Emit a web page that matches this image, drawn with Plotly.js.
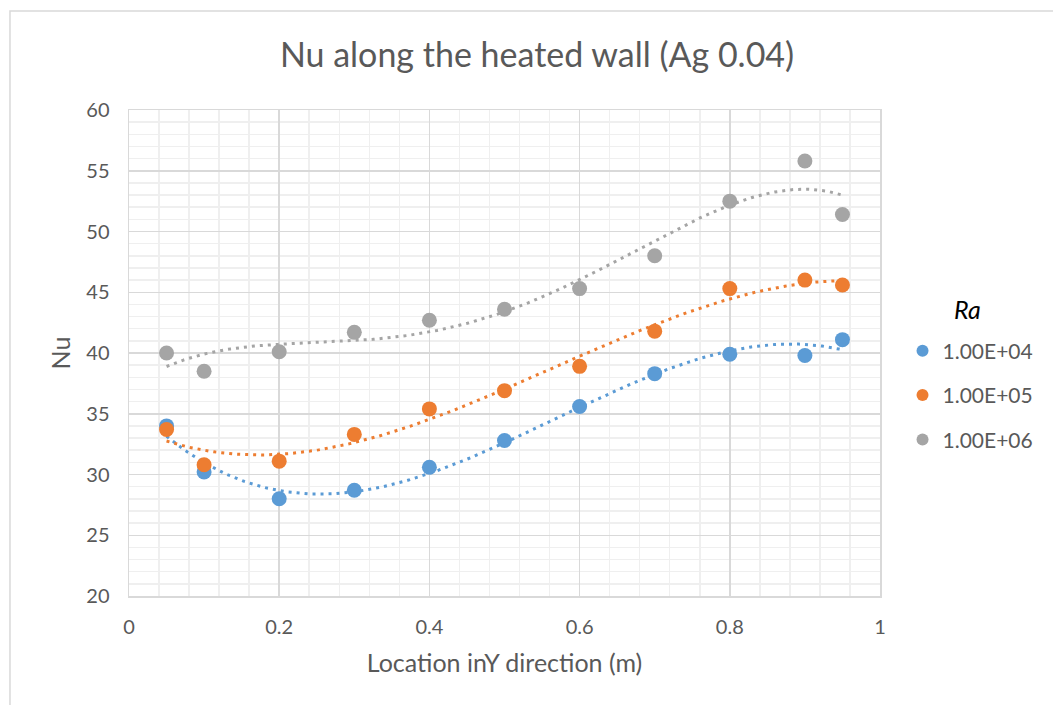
<!DOCTYPE html>
<html>
<head>
<meta charset="utf-8">
<script src="https://cdn.plot.ly/plotly-3.0.1.min.js"></script>
<style>html,body{margin:0;padding:0;background:#fff;}#chart{width:1053px;height:705px;}</style>
</head>
<body>
<div id="chart"></div>
<script>
var locationY = [0.05, 0.1, 0.2, 0.3, 0.4, 0.5, 0.6, 0.7, 0.8, 0.9, 0.95];
var nuRa1e4 = [34.0, 30.2, 28.0, 28.7, 30.6, 32.8, 35.6, 38.3, 39.9, 39.8, 41.1];
var nuRa1e5 = [33.7, 30.8, 31.1, 33.3, 35.4, 36.9, 38.9, 41.8, 45.3, 46.0, 45.6];
var nuRa1e6 = [40.0, 38.5, 40.1, 41.7, 42.7, 43.6, 45.3, 48.0, 52.5, 55.8, 51.4];
var seriesNames = ['1.00E+04', '1.00E+05', '1.00E+06'];
var seriesColors = ['#5B9BD5', '#ED7D31', '#A5A5A5'];
var polyOrders = [3, 3, 4];

function polyFit(xs, ys, order) {
  var n = order + 1, A = [], b = [];
  for (var i = 0; i < n; i++) { A.push(new Array(n).fill(0)); b.push(0); }
  for (var k = 0; k < xs.length; k++) {
    for (var i = 0; i < n; i++) {
      b[i] += ys[k] * Math.pow(xs[k], i);
      for (var j = 0; j < n; j++) A[i][j] += Math.pow(xs[k], i + j);
    }
  }
  for (var c = 0; c < n; c++) {
    var p = c;
    for (var r = c + 1; r < n; r++) if (Math.abs(A[r][c]) > Math.abs(A[p][c])) p = r;
    var t = A[c]; A[c] = A[p]; A[p] = t; var tb = b[c]; b[c] = b[p]; b[p] = tb;
    for (var r = c + 1; r < n; r++) {
      var f = A[r][c] / A[c][c];
      for (var j = c; j < n; j++) A[r][j] -= f * A[c][j];
      b[r] -= f * b[c];
    }
  }
  var coef = new Array(n).fill(0);
  for (var i = n - 1; i >= 0; i--) {
    var s = b[i];
    for (var j = i + 1; j < n; j++) s -= A[i][j] * coef[j];
    coef[i] = s / A[i][i];
  }
  return coef;
}

var allSeries = [nuRa1e4, nuRa1e5, nuRa1e6];
var traces = [];
var xmin = Math.min.apply(null, locationY), xmax = Math.max.apply(null, locationY);
allSeries.forEach(function (ys, idx) {
  var coef = polyFit(locationY, ys, polyOrders[idx]);
  var tx = [], ty = [];
  for (var i = 0; i <= 200; i++) {
    var x = xmin + (xmax - xmin) * i / 200;
    var y = 0;
    for (var j = 0; j < coef.length; j++) y += coef[j] * Math.pow(x, j);
    tx.push(x); ty.push(y);
  }
  traces.push({
    x: tx, y: ty, mode: 'lines', showlegend: false, hoverinfo: 'skip',
    line: {color: seriesColors[idx], width: 3, dash: '3px,5px'}
  });
});
allSeries.forEach(function (ys, idx) {
  traces.push({
    x: locationY, y: ys, mode: 'markers', name: seriesNames[idx],
    legendgroup: 'g' + idx,
    marker: {color: seriesColors[idx], size: 15}
  });
});

var FONT = 'Lato, "Open Sans", sans-serif';
var layout = {
  width: 1053, height: 705,
  paper_bgcolor: '#ffffff', plot_bgcolor: '#ffffff',
  margin: {l: 129, r: 173, t: 110, b: 109},
  font: {family: FONT, color: '#595959', size: 20},
  title: {text: 'Nu along the heated wall (Ag 0.04)', font: {family: FONT, size: 34, color: '#595959'},
          x: 0.51, xref: 'container', xanchor: 'center', y: 0.922, yanchor: 'middle'},
  xaxis: {
    range: [0, 1], dtick: 0.2, tick0: 0, showgrid: true, gridcolor: '#d9d9d9', gridwidth: 1.5,
    minor: {dtick: 0.04, showgrid: true, gridcolor: '#efefef', gridwidth: 1.5},
    showline: true, linecolor: '#d9d9d9', linewidth: 1.5, mirror: true,
    zeroline: false, ticks: '', ticklabelstandoff: 12,
    tickfont: {size: 20, color: '#595959'},
    title: {text: 'Location inY direction (m)', font: {size: 25, color: '#595959'}, standoff: 18}
  },
  yaxis: {
    range: [20, 60], dtick: 5, tick0: 20, showgrid: true, gridcolor: '#d9d9d9', gridwidth: 1.5,
    minor: {dtick: 1, showgrid: true, gridcolor: '#efefef', gridwidth: 1.5},
    showline: true, linecolor: '#d9d9d9', linewidth: 1.5, mirror: true,
    zeroline: false, ticks: '', ticklabelstandoff: 14,
    tickfont: {size: 20, color: '#595959'},
    title: {text: 'Nu', font: {size: 25, color: '#595959'}, standoff: 8}
  },
  legend: {
    x: 1.03, xanchor: 'left', y: 0.546, yanchor: 'top',
    font: {size: 21, color: '#595959'},
    tracegroupgap: 14, itemsizing: 'constant'
  },
  annotations: [{
    text: '<i>Ra</i>', xref: 'paper', yref: 'paper', x: (967 - 129) / 751, y: (596 - 309) / 486,
    xanchor: 'center', yanchor: 'middle', showarrow: false,
    font: {family: FONT, size: 25, color: '#000000'}
  }],
  shapes: [{
    type: 'rect', xref: 'paper', yref: 'paper',
    x0: -0.1585, x1: 1.235, y0: -0.24, y1: 1.2037,
    line: {color: '#d9d9d9', width: 1.5}, fillcolor: 'rgba(0,0,0,0)', layer: 'below'
  }]
};
Plotly.newPlot('chart', traces, layout, {displayModeBar: false, staticPlot: true});
</script>
</body>
</html>
